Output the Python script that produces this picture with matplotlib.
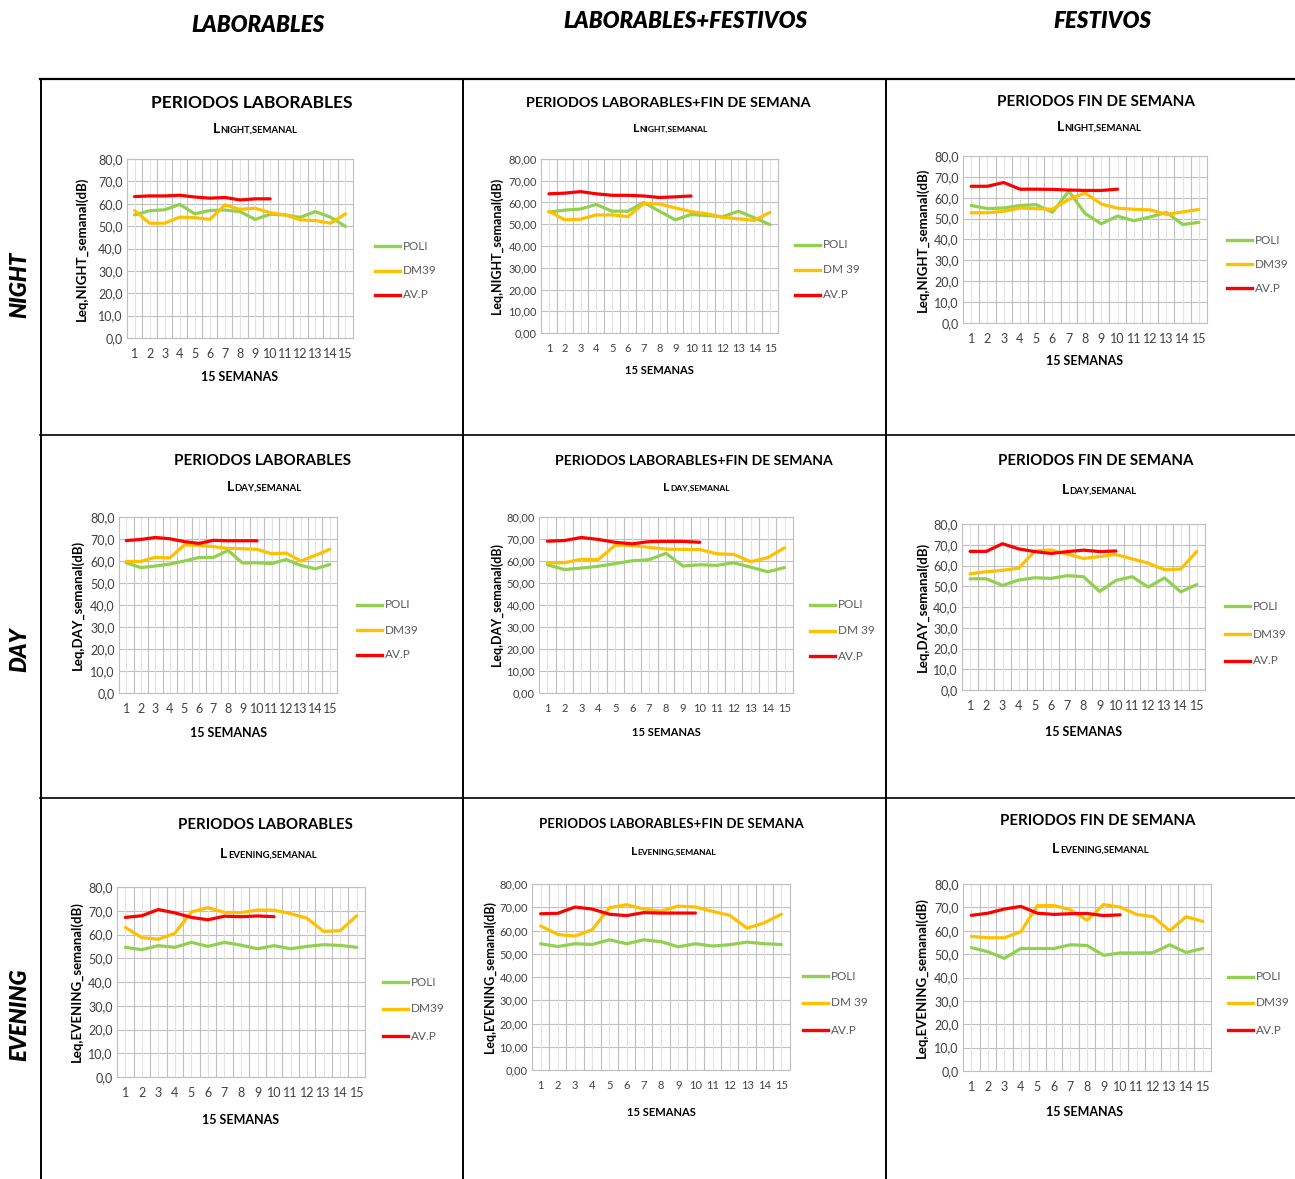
import matplotlib
matplotlib.use("Agg")
import matplotlib.pyplot as plt
from matplotlib.lines import Line2D
from matplotlib.ticker import FuncFormatter, MultipleLocator

# ---------------------------------------------------------------------------
# Weekly Leq values (dB) per station, period and day type
# ---------------------------------------------------------------------------

WEEKS = list(range(1, 16))
WEEKS_AVP = list(range(1, 11))
SERIES_NAMES = ["POLI", "DM39", "AV.P"]

# NIGHT
NIGHT_LAB_POLI = [55.0, 56.9, 57.3, 59.7, 55.5, 57.0, 57.2, 56.5, 53.0, 55.3, 55.0, 53.9, 56.5, 54.0, 49.9]
NIGHT_LAB_DM39 = [57.0, 51.3, 51.3, 54.0, 53.8, 53.0, 59.5, 57.5, 58.0, 56.0, 55.0, 52.8, 52.5, 51.3, 55.5]
NIGHT_LAB_AVP = [63.2, 63.5, 63.5, 63.8, 63.0, 62.5, 62.8, 61.7, 62.2, 62.2]

NIGHT_ALL_POLI = [55.6, 56.5, 57.0, 59.1, 56.0, 56.0, 60.0, 56.0, 52.0, 54.5, 54.0, 53.5, 56.0, 53.0, 49.8]
NIGHT_ALL_DM39 = [56.0, 52.0, 52.3, 54.3, 54.3, 53.5, 59.5, 59.3, 57.5, 55.8, 54.8, 53.2, 52.5, 51.8, 55.5]
NIGHT_ALL_AVP = [64.0, 64.3, 65.0, 64.0, 63.3, 63.3, 63.0, 62.3, 62.6, 63.0]

NIGHT_FES_POLI = [56.3, 54.8, 55.1, 56.3, 56.7, 53.0, 63.2, 52.5, 47.5, 51.2, 49.0, 50.8, 53.0, 47.2, 48.2]
NIGHT_FES_DM39 = [52.8, 52.8, 53.5, 55.1, 54.8, 54.5, 59.2, 62.3, 57.0, 55.0, 54.5, 54.2, 52.0, 53.2, 54.4]
NIGHT_FES_AVP = [65.5, 65.5, 67.3, 64.1, 64.1, 64.0, 63.7, 63.5, 63.5, 64.1]

# DAY
DAY_LAB_POLI = [59.2, 57.0, 57.7, 58.6, 60.0, 61.6, 61.6, 64.8, 59.1, 59.2, 58.8, 60.7, 58.0, 56.5, 58.4]
DAY_LAB_DM39 = [59.8, 59.8, 61.7, 61.4, 67.3, 67.1, 66.5, 65.7, 65.6, 65.3, 63.3, 63.6, 60.0, 62.5, 65.3]
DAY_LAB_AVP = [69.3, 69.8, 70.7, 70.1, 68.8, 68.0, 69.4, 69.2, 69.2, 69.2]

DAY_ALL_POLI = [58.3, 56.1, 56.8, 57.6, 58.8, 60.1, 60.6, 63.5, 57.7, 58.3, 58.0, 59.2, 57.2, 55.1, 57.0]
DAY_ALL_DM39 = [59.2, 59.2, 60.8, 60.6, 67.2, 67.1, 66.2, 65.4, 65.3, 65.2, 63.3, 63.0, 59.7, 61.5, 66.0]
DAY_ALL_AVP = [69.0, 69.3, 70.7, 69.8, 68.5, 67.8, 68.8, 68.9, 68.9, 68.5]

DAY_FES_POLI = [53.6, 53.6, 50.4, 53.0, 54.1, 53.8, 55.1, 54.6, 47.5, 52.8, 54.6, 49.6, 54.0, 47.3, 50.8]
DAY_FES_DM39 = [56.0, 57.0, 57.7, 58.7, 67.0, 67.5, 65.5, 63.4, 64.3, 65.3, 63.2, 61.1, 58.0, 58.3, 66.8]
DAY_FES_AVP = [66.8, 66.8, 70.5, 68.0, 66.7, 65.8, 66.7, 67.4, 66.7, 67.0]

# EVENING
EVE_LAB_POLI = [54.6, 53.6, 55.3, 54.6, 56.7, 55.0, 56.7, 55.5, 54.0, 55.3, 54.0, 55.0, 55.7, 55.4, 54.6]
EVE_LAB_DM39 = [63.0, 58.7, 58.0, 60.5, 69.5, 71.3, 69.3, 69.2, 70.3, 70.2, 68.8, 66.8, 61.3, 61.6, 67.9]
EVE_LAB_AVP = [67.2, 67.9, 70.5, 69.1, 67.2, 66.2, 67.7, 67.5, 67.8, 67.5]

EVE_ALL_POLI = [54.3, 53.1, 54.3, 54.0, 56.0, 54.3, 56.0, 55.2, 53.0, 54.3, 53.3, 53.9, 55.0, 54.3, 54.0]
EVE_ALL_DM39 = [62.0, 58.3, 57.6, 60.3, 69.8, 71.1, 69.2, 68.3, 70.5, 70.1, 68.2, 66.5, 61.0, 63.3, 67.0]
EVE_ALL_AVP = [67.2, 67.4, 70.1, 69.2, 67.0, 66.4, 67.7, 67.5, 67.5, 67.5]

EVE_FES_POLI = [52.8, 51.0, 48.2, 52.4, 52.4, 52.4, 54.0, 53.7, 49.5, 50.5, 50.5, 50.6, 54.0, 50.7, 52.4]
EVE_FES_DM39 = [57.6, 57.0, 57.0, 59.6, 70.8, 70.8, 69.0, 64.5, 71.2, 70.1, 67.0, 66.0, 60.0, 66.0, 64.0]
EVE_FES_AVP = [66.6, 67.5, 69.3, 70.4, 67.5, 67.0, 67.3, 67.4, 66.5, 66.8]

COLUMN_HEADERS = ["LABORABLES", "LABORABLES+FESTIVOS", "FESTIVOS"]
ROW_HEADERS = ["NIGHT", "DAY", "EVENING"]
PANEL_TITLES = ["PERIODOS LABORABLES", "PERIODOS LABORABLES+FIN DE SEMANA", "PERIODOS FIN DE SEMANA"]
DM39_LABELS = ["DM39", "DM 39", "DM39"]

COLORS = ["#92D050", "#FFC000", "#FF0000"]
GRID_MAJOR = "#BFBFBF"
GRID_MINOR = "#E3E3E3"
TEXT_GRAY = "#595959"

FONT = ["Lato", "DejaVu Sans"]

# ---------------------------------------------------------------------------
# Layout in pixels (figure is 1295 x 1179)
# ---------------------------------------------------------------------------

W, H = 1295, 1179

# plot-area box (x0, y0, x1, y1), title centre + size, subtitle centre, xlabel centre,
# ylabel x, legend line start x, legend rows y, tick decimals
LAYOUT = [
    [  # NIGHT
        dict(box=(127, 159, 353, 338), title=(252, 103), ts=12.5, sub=(255, 133), xl=(240, 377),
             yl=81, leg_x=375, leg_y=(246, 271, 295), dec=1),
        dict(box=(541, 159, 778, 333), title=(668, 103), ts=10.4, sub=(670, 132), xl=(659, 371),
             yl=497, leg_x=795, leg_y=(245, 270, 295), dec=2),
        dict(box=(963, 156, 1207, 323), title=(1096, 102), ts=11.0, sub=(1099, 131), xl=(1085, 361),
             yl=922, leg_x=1227, leg_y=(240, 264, 288), dec=1),
    ],
    [  # DAY
        dict(box=(119, 517, 337, 693), title=(262, 461), ts=11.0, sub=(264, 491), xl=(229, 733),
             yl=77, leg_x=357, leg_y=(605, 630, 655), dec=1),
        dict(box=(539, 517, 793, 693), title=(694, 461), ts=10.1, sub=(696, 491), xl=(666, 733),
             yl=497, leg_x=810, leg_y=(605, 631, 656), dec=2),
        dict(box=(962, 524, 1205, 690), title=(1096, 461), ts=10.8, sub=(1099, 494), xl=(1084, 732),
             yl=922, leg_x=1225, leg_y=(606, 634, 661), dec=1),
    ],
    [  # EVENING
        dict(box=(117, 887, 365, 1077), title=(265, 825), ts=10.8, sub=(268, 858), xl=(241, 1120),
             yl=76, leg_x=383, leg_y=(982, 1009, 1036), dec=1),
        dict(box=(532, 884, 790, 1070), title=(671, 824), ts=9.5, sub=(673, 855), xl=(661, 1112),
             yl=490, leg_x=803, leg_y=(976, 1003, 1030), dec=2),
        dict(box=(963, 884, 1211, 1071), title=(1098, 821), ts=10.8, sub=(1100, 853), xl=(1085, 1112),
             yl=921, leg_x=1228, leg_y=(977, 1003, 1030), dec=1),
    ],
]

DATA = [
    [(NIGHT_LAB_POLI, NIGHT_LAB_DM39, NIGHT_LAB_AVP),
     (NIGHT_ALL_POLI, NIGHT_ALL_DM39, NIGHT_ALL_AVP),
     (NIGHT_FES_POLI, NIGHT_FES_DM39, NIGHT_FES_AVP)],
    [(DAY_LAB_POLI, DAY_LAB_DM39, DAY_LAB_AVP),
     (DAY_ALL_POLI, DAY_ALL_DM39, DAY_ALL_AVP),
     (DAY_FES_POLI, DAY_FES_DM39, DAY_FES_AVP)],
    [(EVE_LAB_POLI, EVE_LAB_DM39, EVE_LAB_AVP),
     (EVE_ALL_POLI, EVE_ALL_DM39, EVE_ALL_AVP),
     (EVE_FES_POLI, EVE_FES_DM39, EVE_FES_AVP)],
]


def fx(px):
    return px / W


def fy(py):
    return 1 - py / H


fig = plt.figure(figsize=(W / 100, H / 100), dpi=100)
renderer = fig.canvas.get_renderer()


def fig_line(x0, y0, x1, y1, **kw):
    fig.add_artist(Line2D([fx(x0), fx(x1)], [fy(y0), fy(y1)], **kw))


def small_caps_title(cx, cy, period, scale):
    """'L' followed by the period name in small caps, centred at (cx, cy) on the baseline."""
    big = fig.text(0, 0, "L", fontsize=10.5 * scale, fontweight="bold", family=FONT,
                   va="baseline")
    rest = fig.text(0, 0, f"{period},SEMANAL", fontsize=7.2 * scale, fontweight="bold",
                    family=FONT, va="baseline")
    wb = big.get_window_extent(renderer).width
    wr = rest.get_window_extent(renderer).width
    left = cx - (wb + wr) / 2
    big.set_position((fx(left), fy(cy)))
    rest.set_position((fx(left + wb + 0.5), fy(cy)))


def comma_fmt(dec):
    return FuncFormatter(lambda v, _: f"{v:.{dec}f}".replace(".", ","))


for r, row in enumerate(LAYOUT):
    for c, lay in enumerate(row):
        x0, y0, x1, y1 = lay["box"]
        ax = fig.add_axes([fx(x0), fy(y1), fx(x1) - fx(x0), (y1 - y0) / H])
        poli, dm39, avp = DATA[r][c]
        narrow = lay["dec"] == 2

        for xs, ys, col in zip((WEEKS, WEEKS, WEEKS_AVP), (poli, dm39, avp), COLORS):
            ax.plot(xs, ys, color=col, lw=2.3, solid_capstyle="round", zorder=3)

        ax.set_xlim(0.5, 15.5)
        ax.set_ylim(0, 80)
        ax.yaxis.set_major_locator(MultipleLocator(10))
        ax.yaxis.set_major_formatter(comma_fmt(lay["dec"]))
        ax.set_xticks(WEEKS)
        ax.set_xticks([w + 0.5 for w in WEEKS[:-1]], minor=True)

        # gridlines: category centres light, category boundaries darker
        for w in WEEKS:
            ax.axvline(w, color=GRID_MINOR, lw=0.8, zorder=1)
        ax.grid(axis="x", which="minor", color=GRID_MAJOR, lw=0.8, zorder=1)
        ax.grid(axis="y", which="major", color=GRID_MAJOR, lw=0.8, zorder=1)
        ax.set_axisbelow(True)
        for sp in ax.spines.values():
            sp.set_color(GRID_MAJOR)
            sp.set_linewidth(0.8)
        ax.tick_params(which="both", length=0, labelsize=8 if narrow else 9,
                       labelcolor="#404040")
        ax.tick_params(axis="x", pad=7)
        ax.tick_params(axis="y", pad=3)
        for lbl in ax.get_xticklabels() + ax.get_yticklabels():
            lbl.set_family(FONT)

        # titles
        tx, ty = lay["title"]
        fig.text(fx(tx), fy(ty), PANEL_TITLES[c], ha="center", va="center",
                 fontsize=lay["ts"], fontweight="bold", family=FONT)
        small_caps_title(*lay["sub"], ROW_HEADERS[r], 0.85 if narrow else 0.95)

        xlx, xly = lay["xl"]
        fig.text(fx(xlx), fy(xly), "15 SEMANAS", ha="center", va="center",
                 fontsize=8 if narrow else 9, fontweight="bold", family=FONT)
        fig.text(fx(lay["yl"]), fy((y0 + y1) / 2), f"Leq,{ROW_HEADERS[r]}_semanal(dB)",
                 ha="center", va="center", rotation=90, fontsize=9 if narrow else 9.5,
                 fontweight="bold", family=FONT)

        # legend
        labels = [SERIES_NAMES[0], DM39_LABELS[c], SERIES_NAMES[2]]
        for ly, col, name in zip(lay["leg_y"], COLORS, labels):
            fig_line(lay["leg_x"], ly, lay["leg_x"] + 25, ly, color=col, lw=2.4)
            fig.text(fx(lay["leg_x"] + 28), fy(ly), name, ha="left", va="center",
                     fontsize=8.5, color=TEXT_GRAY, family=FONT)

# ---------------------------------------------------------------------------
# Outer table frame and headers
# ---------------------------------------------------------------------------

fig_line(40, 79, W, 79, color="black", lw=1.6)
for x in (41, 463, 886):
    fig_line(x, 79, x, H, color="black", lw=1.4)
for y in (435, 798):
    fig_line(40, y, W, y, color="black", lw=1.2)

for x, y, txt in zip((258, 685, 1102), (25, 22, 22), COLUMN_HEADERS):
    fig.text(fx(x), fy(y), txt, ha="center", va="center", fontsize=16,
             fontweight="heavy", fontstyle="italic", family=FONT)

for y, txt in zip((285, 650, 1015), ROW_HEADERS):
    fig.text(fx(20), fy(y), txt, ha="center", va="center", rotation=90, fontsize=16,
             fontweight="heavy", fontstyle="italic", family=FONT)

fig.savefig("out.png", dpi=100, facecolor="white")
